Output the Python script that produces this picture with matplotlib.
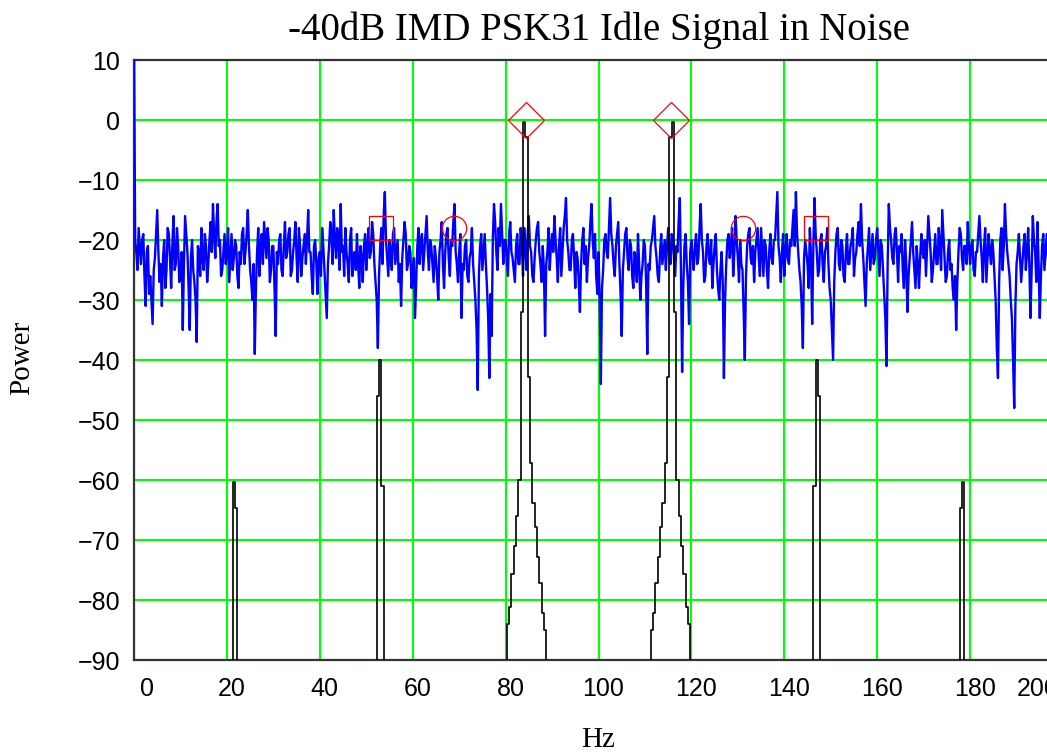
import matplotlib
matplotlib.use("Agg")
import matplotlib.pyplot as plt
import matplotlib.transforms as mtransforms
import numpy as np

# noise spectrum, one value every 0.25 Hz from 0 to 200 Hz (dB), one row per 10 Hz
noise_step = 0.25
noise_db = [
    15, -20, -22, -25, -18, -21, -24, -20, -19, -26, -31, -22, -21, -29, -26, -30, -34, -25, -23, -19,
    -15, -22, -27, -24, -31, -23, -20, -28, -25, -18, -19, -23, -28, -21, -16, -25, -24, -18, -21, -27,
    -26, -22, -35, -24, -16, -19, -22, -28, -35, -23, -20, -25, -27, -30, -37, -21, -22, -26, -18, -23,
    -25, -19, -21, -27, -24, -20, -17, -22, -14, -19, -23, -17, -14, -21, -20, -26, -25, -22, -19, -24,
    -22, -18, -27, -23, -19, -25, -23, -20, -21, -26, -28, -22, -24, -19, -18, -24, -22, -19, -15, -21,
    -25, -27, -30, -24, -39, -28, -22, -18, -26, -21, -19, -24, -17, -20, -23, -18, -20, -27, -25, -21,
    -21, -28, -36, -22, -24, -20, -19, -25, -26, -21, -17, -23, -22, -19, -18, -26, -25, -22, -20, -17,
    -23, -27, -18, -21, -26, -23, -21, -19, -24, -20, -15, -22, -22, -26, -29, -21, -20, -24, -29, -23,
    -22, -26, -18, -21, -25, -29, -33, -24, -21, -17, -19, -24, -15, -20, -23, -18, -20, -25, -14, -22,
    -21, -26, -18, -22, -24, -27, -20, -18, -26, -23, -22, -25, -19, -24, -28, -21, -23, -27, -21, -19,
    -25, -21, -18, -23, -22, -17, -19, -24, -27, -30, -38, -26, -21, -18, -24, -16, -12, -20, -23, -26,
    -20, -22, -25, -19, -18, -24, -22, -20, -27, -24, -31, -23, -20, -17, -19, -25, -24, -21, -22, -28,
    -26, -23, -33, -27, -21, -18, -24, -20, -19, -25, -22, -19, -16, -22, -25, -20, -21, -24, -27, -21,
    -23, -26, -30, -22, -20, -17, -24, -28, -22, -19, -18, -23, -26, -20, -21, -17, -14, -22, -24, -27,
    -22, -19, -33, -24, -25, -21, -20, -26, -27, -23, -22, -18, -24, -27, -30, -35, -45, -26, -21, -19,
    -25, -22, -19, -24, -28, -33, -43, -29, -36, -20, -14, -17, -22, -25, -18, -21, -14, -19, -24, -20,
    -20, -23, -26, -19, -17, -22, -23, -25, -27, -21, -19, -24, -24, -18, -21, -26, -18, -21, -25, -19,
    -16, -21, -22, -26, -27, -23, -20, -18, -17, -22, -24, -27, -21, -25, -36, -24, -22, -18, -25, -21,
    -19, -22, -16, -20, -23, -27, -21, -18, -26, -22, -18, -16, -13, -20, -22, -25, -25, -20, -19, -23,
    -28, -22, -23, -27, -32, -24, -20, -18, -24, -21, -27, -23, -21, -17, -14, -20, -23, -19, -26, -29,
    -22, -30, -44, -28, -25, -20, -19, -22, -23, -18, -13, -19, -21, -24, -26, -21, -19, -17, -24, -29,
    -36, -25, -22, -19, -18, -23, -25, -20, -21, -26, -28, -22, -23, -27, -19, -24, -30, -26, -24, -20,
    -21, -27, -39, -24, -25, -21, -20, -18, -16, -21, -23, -26, -27, -22, -19, -24, -22, -20, -25, -21,
    -18, -22, -24, -19, -20, -23, -26, -21, -22, -17, -13, -25, -42, -28, -21, -19, -24, -27, -34, -22,
    -20, -23, -25, -21, -19, -24, -23, -18, -14, -20, -22, -27, -26, -21, -19, -23, -24, -20, -28, -24,
    -21, -19, -25, -28, -30, -25, -22, -27, -43, -30, -24, -20, -19, -23, -21, -18, -26, -22, -16, -20,
    -23, -27, -20, -24, -25, -32, -40, -26, -21, -19, -18, -23, -24, -21, -27, -22, -20, -18, -23, -26,
    -18, -22, -26, -20, -21, -25, -28, -22, -19, -23, -24, -20, -20, -16, -12, -21, -23, -27, -22, -19,
    -26, -22, -19, -23, -24, -20, -21, -18, -15, -21, -12, -19, -22, -25, -27, -31, -38, -23, -20, -22,
    -24, -28, -18, -23, -34, -21, -13, -19, -22, -26, -25, -20, -19, -24, -27, -22, -21, -18, -24, -28,
    -30, -35, -40, -27, -22, -19, -18, -24, -25, -20, -21, -26, -27, -22, -19, -24, -24, -21, -20, -18,
    -26, -23, -22, -19, -17, -21, -14, -20, -23, -27, -31, -24, -21, -18, -25, -22, -19, -24, -23, -20,
    -18, -22, -26, -20, -21, -25, -29, -33, -41, -24, -14, -18, -20, -23, -24, -19, -18, -22, -27, -21,
    -22, -19, -25, -28, -20, -24, -32, -26, -23, -20, -17, -22, -25, -28, -21, -24, -28, -23, -19, -22,
    -23, -20, -26, -21, -16, -19, -22, -27, -25, -22, -19, -24, -24, -18, -21, -25, -15, -19, -23, -27,
    -26, -22, -20, -25, -24, -28, -30, -26, -35, -27, -22, -18, -19, -23, -25, -21, -21, -24, -17, -21,
    -24, -21, -20, -25, -26, -22, -22, -19, -16, -20, -23, -27, -21, -18, -27, -23, -19, -22, -24, -20,
    -22, -26, -30, -38, -43, -27, -20, -18, -25, -21, -14, -19, -22, -24, -26, -30, -33, -40, -48, -31,
    -24, -22, -19, -23, -27, -24, -21, -19, -25, -22, -18, -24, -33, -25, -16, -20, -22, -27, -17, -24,
    -33, -26, -21, -19, -25, -22, -19, -23, -23, -27, -26, -21, -20, -18, -24, -28, -22, -19, -25, -23,
    -21,
]
noise_freq = np.arange(len(noise_db)) * noise_step

# clean signal: the two tones and their IMD products (anything below -90 is off scale)
signal_freq = [21.0, 21.5, 22.0, 22.5,
               52.0, 52.5, 53.0, 53.5, 54.0,
               80.0, 80.5, 81.0, 81.5, 82.0, 82.5, 83.0, 83.5, 84.0, 84.5,
               85.0, 85.5, 86.0, 86.5, 87.0, 87.5, 88.0, 88.5, 89.0,
               111.0, 111.5, 112.0, 112.5, 113.0, 113.5, 114.0, 114.5, 115.0, 115.5,
               116.0, 116.5, 117.0, 117.5, 118.0, 118.5, 119.0, 119.5, 120.0,
               146.0, 146.5, 147.0, 147.5, 148.0,
               177.5, 178.0, 178.5, 179.0]
signal_db = [-150, -60.3, -64.7, -150,
             -150, -46, -40, -61, -150,
             -150, -84, -81.1, -75.6, -71, -66, -60, -32, -0.3, -2.8,
             -42.8, -57.2, -63.9, -67.8, -72.8, -77.2, -82.2, -85, -150,
             -150, -85, -82.2, -77.2, -72.8, -67.8, -63.9, -57.2, -42.8, -2.8,
             -0.3, -32, -60, -66, -71, -75.6, -81.1, -84, -150,
             -150, -61, -40, -46, -150,
             -150, -64.7, -60.3, -150]

# markers
tone_freq = [84.4, 115.6]
tone_db = [0, 0]
imd3_freq = [53.1, 146.9]
imd3_db = [-18, -18]
mid_freq = [68.8, 131.2]
mid_db = [-18, -18]

W, H = 1047, 753
fig = plt.figure(figsize=(W / 100, H / 100), dpi=100)
ax = fig.add_axes([134 / W, 93 / H, 929 / W, 600 / H])

ax.plot(noise_freq, noise_db, color='#0000ff', lw=1.7, zorder=3)
ax.plot(signal_freq, signal_db, color='black', lw=1.2, drawstyle='steps-mid', zorder=4)
ax.plot(tone_freq, tone_db, 'D', ms=18.5, mfc='none', mec='#ff0000', mew=0.9, ls='none', zorder=5)
ax.plot(imd3_freq, imd3_db, 's', ms=17.5, mfc='none', mec='#ff0000', mew=0.9, ls='none', zorder=5)
ax.plot(mid_freq, mid_db, 'o', ms=17.5, mfc='none', mec='#ff0000', mew=0.9, ls='none', zorder=5)

ax.set_xlim(0, 200)
ax.set_ylim(-90, 10)
ax.set_xticks(range(0, 201, 20))
ax.set_yticks(range(-90, 11, 10))
ax.grid(True, color='#00ff00', lw=1.5)
ax.set_axisbelow(True)
ax.tick_params(length=0, labelsize=18, pad=12)
ax.tick_params(axis='y', pad=10)
for lab in ax.get_xticklabels() + ax.get_yticklabels():
    lab.set_fontfamily('Liberation Sans')
for s in ax.spines.values():
    s.set_color('#333333')
    s.set_linewidth(1.6)

# shift the x tick labels the way the original does
xlabs = ax.get_xticklabels()
for i, lab in enumerate(xlabs):
    dx = 5
    if i == 0:
        dx = 13
    elif i == len(xlabs) - 1:
        dx = -25
    lab.set_transform(lab.get_transform() + mtransforms.ScaledTranslation(dx / 100, 0, fig.dpi_scale_trans))

fig.text(598.5 / W, 1 - 40 / H, '-40dB IMD PSK31 Idle Signal in Noise', ha='center', va='baseline',
         fontsize=28, family='Liberation Serif')
fig.text(598.5 / W, 1 - 740 / H, 'Hz', ha='center', va='center', fontsize=21, family='Liberation Serif')
fig.text(22 / W, 1 - 358 / H, 'Power', ha='center', va='center', rotation=90, fontsize=21,
         family='Liberation Serif')

fig.savefig('out.png', dpi=100)
